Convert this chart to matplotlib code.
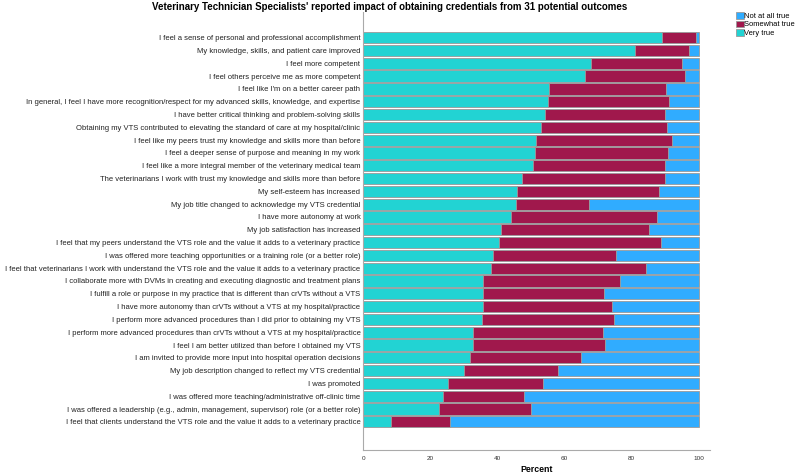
import numpy as np
import matplotlib.pyplot as plt

plt.rcParams['font.family'] = ['Liberation Sans', 'DejaVu Sans']

outcomes = [
    "I feel a sense of personal and professional accomplishment",
    "My knowledge, skills, and patient care improved",
    "I feel more competent",
    "I feel others perceive me as more competent",
    "I feel like I'm on a better career path",
    "In general, I feel I have more recognition/respect for my advanced skills, knowledge, and expertise",
    "I have better critical thinking and problem-solving skills",
    "Obtaining my VTS contributed to elevating the standard of care at my hospital/clinic",
    "I feel like my peers trust my knowledge and skills more than before",
    "I feel a deeper sense of purpose and meaning in my work",
    "I feel like a more integral member of the veterinary medical team",
    "The veterinarians I work with trust my knowledge and skills more than before",
    "My self-esteem has increased",
    "My job title changed to acknowledge my VTS credential",
    "I have more autonomy at work",
    "My job satisfaction has increased",
    "I feel that my peers understand the VTS role and the value it adds to a veterinary practice",
    "I was offered more teaching opportunities or a training role (or a better role)",
    "I feel that veterinarians I work with understand the VTS role and the value it adds to a veterinary practice",
    "I collaborate more with DVMs in creating and executing diagnostic and treatment plans",
    "I fulfill a role or purpose in my practice that is different than crVTs without a VTS",
    "I have more autonomy than crVTs without a VTS at my hospital/practice",
    "I perform more advanced procedures than I did prior to obtaining my VTS",
    "I perform more advanced procedures than crVTs without a VTS at my hospital/practice",
    "I feel I am better utilized than before I obtained my VTS",
    "I am invited to provide more input into hospital operation decisions",
    "My job description changed to reflect my VTS credential",
    "I was promoted",
    "I was offered more teaching/administrative off-clinic time",
    "I was offered a leadership (e.g., admin, management, supervisor) role (or a better role)",
    "I feel that clients understand the VTS role and the value it adds to a veterinary practice",
]

very_true = [89.0, 81.1, 68.0, 66.0, 55.3, 55.0, 54.3, 52.9, 51.5, 51.1, 50.6,
             47.2, 45.8, 45.4, 44.1, 41.0, 40.4, 38.7, 38.2, 35.8, 35.8, 35.8,
             35.3, 32.8, 32.8, 31.9, 30.0, 25.2, 23.7, 22.6, 8.2]
somewhat_true = [10.0, 15.8, 27.1, 29.8, 34.8, 36.1, 35.5, 37.6, 40.4, 39.6, 39.4,
                 42.6, 42.4, 22.0, 43.4, 44.1, 48.2, 36.7, 46.0, 40.8, 36.0, 38.4,
                 39.3, 38.6, 39.2, 33.0, 28.1, 28.5, 24.2, 27.4, 17.8]
not_true = [100 - a - b for a, b in zip(very_true, somewhat_true)]

c_very = '#22d3d3'
c_some = '#a0184c'
c_not = '#30acff'

fig = plt.figure(figsize=(8, 4.76), dpi=100)
ax = fig.add_axes([0.454, 0.0546, 0.4335, 0.92])

y = np.arange(len(outcomes))
vt = np.array(very_true)
st = np.array(somewhat_true)
nt = np.array(not_true)
kw = dict(height=0.88, edgecolor='#9a9a9a', linewidth=0.6)
b1 = ax.barh(y, vt, color=c_very, label='Very true', **kw)
b2 = ax.barh(y, st, left=vt, color=c_some, label='Somewhat true', **kw)
b3 = ax.barh(y, nt, left=vt + st, color=c_not, label='Not at all true', **kw)

ax.set_ylim(len(outcomes) - 1 + 2.2, -2.0)
ax.set_xlim(0, 103.3)
ax.set_yticks(y)
ax.set_yticklabels(outcomes, fontsize=5.5, color='#222222')
ax.set_xticks([0, 20, 40, 60, 80, 100])
ax.tick_params(axis='x', labelsize=4.6, length=0, pad=4, colors='#333333')
ax.tick_params(axis='y', length=0, pad=2)
for s in ['top', 'right']:
    ax.spines[s].set_visible(False)
for s in ['left', 'bottom']:
    ax.spines[s].set_color('#aaaaaa')
    ax.spines[s].set_linewidth(0.8)
ax.set_xlabel('Percent', fontsize=6.3, fontweight='bold', labelpad=3)

fig.suptitle("Veterinary Technician Specialists' reported impact of obtaining credentials from 31 potential outcomes",
             fontsize=7.0, fontweight='bold', x=0.487, y=0.995)

fig.legend(handles=[b3, b2, b1], loc='upper left', bbox_to_anchor=(0.92, 0.975),
           frameon=False, fontsize=5.4, handlelength=1.0, handleheight=1.0,
           handletextpad=0.1, labelspacing=0.1, borderaxespad=0, borderpad=0)

fig.savefig('out.png', dpi=100)
